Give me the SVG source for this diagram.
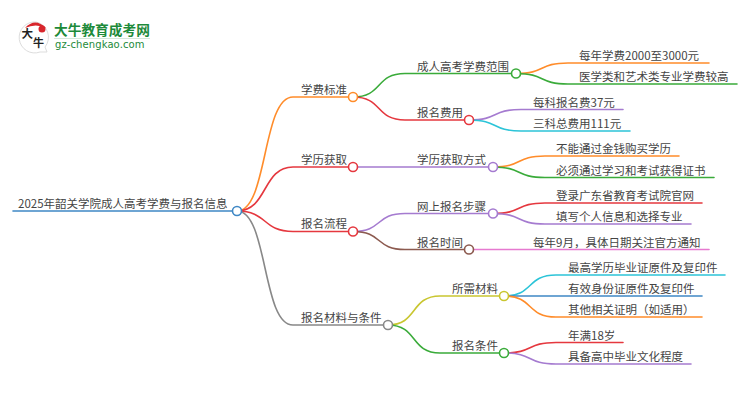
<svg xmlns="http://www.w3.org/2000/svg" width="750" height="410" viewBox="0 0 750 410">
<style>
text{font-family:"Noto Sans CJK SC","Noto Sans",sans-serif;font-size:11.5px;fill:#444}
.c{fill:none;stroke-width:1.6;stroke-linecap:round}
.n{fill:#fff;stroke-width:1.6}
.o{stroke:#ff8c2a}.r{stroke:#e5383f}.p{stroke:#a57bd0}.g{stroke:#3aab3a}.t{stroke:#2cc4d8}.b{stroke:#3f88c5}.br{stroke:#8c5a4f}.gy{stroke:#888}.y{stroke:#c9c630}.m{stroke:#e67ad0}
</style>
<g id="logo">
<path d="M36 22A15.500 15.500 0 1 0 40 52L47 52L45 47A15.500 15.500 0 0 0 36 22Z" fill="#fff" stroke="#ddd"/>
<path d="M25 28Q35 17 46 28Q36 23 25 28Z" fill="#d8262c"/>
<circle cx="42" cy="29" r="3.500" fill="#d8262c"/>
<text x="21.500" y="38" style="font-size:11.500px;font-weight:700;fill:#222">大</text>
<text x="33" y="47" style="font-size:11px;font-weight:700;fill:#222">牛</text>
<text x="54" y="35" style="font-size:13.700px;font-weight:700;fill:#1d8a3a">大牛教育成考网</text>
<rect x="54" y="38" width="96" height="1" fill="#d5e8da"/>
<text x="55" y="48" style="font-family:'DejaVu Sans',sans-serif;font-size:10px;letter-spacing:.1px;fill:#1d8a3a">gz-chengkao.com</text>
</g>
<g id="connectors">
<path class="c b" d="M13 211H233"/>
<path class="c o" d="M237 211C268 211 262 97 293 97H349"/>
<path class="c r" d="M237 211C268 211 262 167 293 167H349"/>
<path class="c r" d="M237 211C268 211 262 231.500 293 231.500H349"/>
<path class="c gy" d="M237 211C268 211 262 325 293 325H384"/>
<path class="c g" d="M353 97C383 97 375 73.500 405 73.500H512"/>
<path class="c r" d="M353 97C383 97 375 120 405 120H465"/>
<path class="c p" d="M353 167H489"/>
<path class="c p" d="M353 231.500C383 231.500 375 213.500 405 213.500H489"/>
<path class="c br" d="M353 231.500C383 231.500 375 249.500 405 249.500H465"/>
<path class="c y" d="M388 325C418 325 410 296 440 296H500"/>
<path class="c g" d="M388 325C418 325 410 353 440 353H500"/>
<path class="c o" d="M516 73.500C546 73.500 538 63 568 63H709"/>
<path class="c g" d="M516 73.500C546 73.500 538 84 568 84H737"/>
<path class="c p" d="M469 120C499 120 491 109.500 521 109.500H623"/>
<path class="c t" d="M469 120C499 120 491 131 521 131H630"/>
<path class="c o" d="M493 167C523 167 515 156 545 156H679"/>
<path class="c g" d="M493 167C523 167 515 177.500 545 177.500H714"/>
<path class="c r" d="M493 213.500C523 213.500 515 203 545 203H702"/>
<path class="c p" d="M493 213.500C523 213.500 515 224 545 224H691"/>
<path class="c m" d="M469 249.500H709"/>
<path class="c t" d="M504 296C534 296 526 275 556 275H725"/>
<path class="c b" d="M504 296H702"/>
<path class="c o" d="M504 296C534 296 526 317 556 317H702"/>
<path class="c r" d="M504 353C534 353 526 342.500 556 342.500H623"/>
<path class="c p" d="M504 353C534 353 526 364 556 364H691"/>
</g>
<g id="n0"><text x="18" y="208">2025年韶关学院成人高考学费与报名信息</text><circle class="n b" cx="237" cy="211" r="4.500"/></g>
<g id="n1"><text x="301" y="94">学费标准</text><circle class="n o" cx="353" cy="97" r="4.500"/></g>
<g id="n2"><text x="301" y="164">学历获取</text><circle class="n r" cx="353" cy="167" r="4.500"/></g>
<g id="n3"><text x="301" y="228">报名流程</text><circle class="n r" cx="353" cy="231.500" r="4.500"/></g>
<g id="n4"><text x="301" y="322">报名材料与条件</text><circle class="n gy" cx="388" cy="325" r="4.500"/></g>
<g id="n5"><text x="417" y="70.500">成人高考学费范围</text><circle class="n g" cx="516" cy="73.500" r="4.500"/></g>
<g id="n6"><text x="417" y="117">报名费用</text><circle class="n r" cx="469" cy="120" r="4.500"/></g>
<g id="n7"><text x="417" y="164">学历获取方式</text><circle class="n p" cx="493" cy="167" r="4.500"/></g>
<g id="n8"><text x="417" y="210.500">网上报名步骤</text><circle class="n p" cx="493" cy="213.500" r="4.500"/></g>
<g id="n9"><text x="417" y="246.500">报名时间</text><circle class="n br" cx="469" cy="249.500" r="4.500"/></g>
<g id="n10"><text x="452" y="293">所需材料</text><circle class="n y" cx="504" cy="296" r="4.500"/></g>
<g id="n11"><text x="452" y="350">报名条件</text><circle class="n g" cx="504" cy="353" r="4.500"/></g>
<g id="l1"><text x="579" y="60">每年学费2000至3000元</text></g>
<g id="l2"><text x="579" y="81">医学类和艺术类专业学费较高</text></g>
<g id="l3"><text x="533" y="106.500">每科报名费37元</text></g>
<g id="l4"><text x="533" y="128">三科总费用111元</text></g>
<g id="l5"><text x="556" y="153">不能通过金钱购买学历</text></g>
<g id="l6"><text x="556" y="174.500">必须通过学习和考试获得证书</text></g>
<g id="l7"><text x="556" y="200">登录广东省教育考试院官网</text></g>
<g id="l8"><text x="556" y="221">填写个人信息和选择专业</text></g>
<g id="l9"><text x="533" y="246.500">每年9月，具体日期关注官方通知</text></g>
<g id="l10"><text x="568" y="272">最高学历毕业证原件及复印件</text></g>
<g id="l11"><text x="568" y="293">有效身份证原件及复印件</text></g>
<g id="l12"><text x="568" y="314">其他相关证明（如适用）</text></g>
<g id="l13"><text x="568" y="339.500">年满18岁</text></g>
<g id="l14"><text x="568" y="361">具备高中毕业文化程度</text></g>
</svg>
